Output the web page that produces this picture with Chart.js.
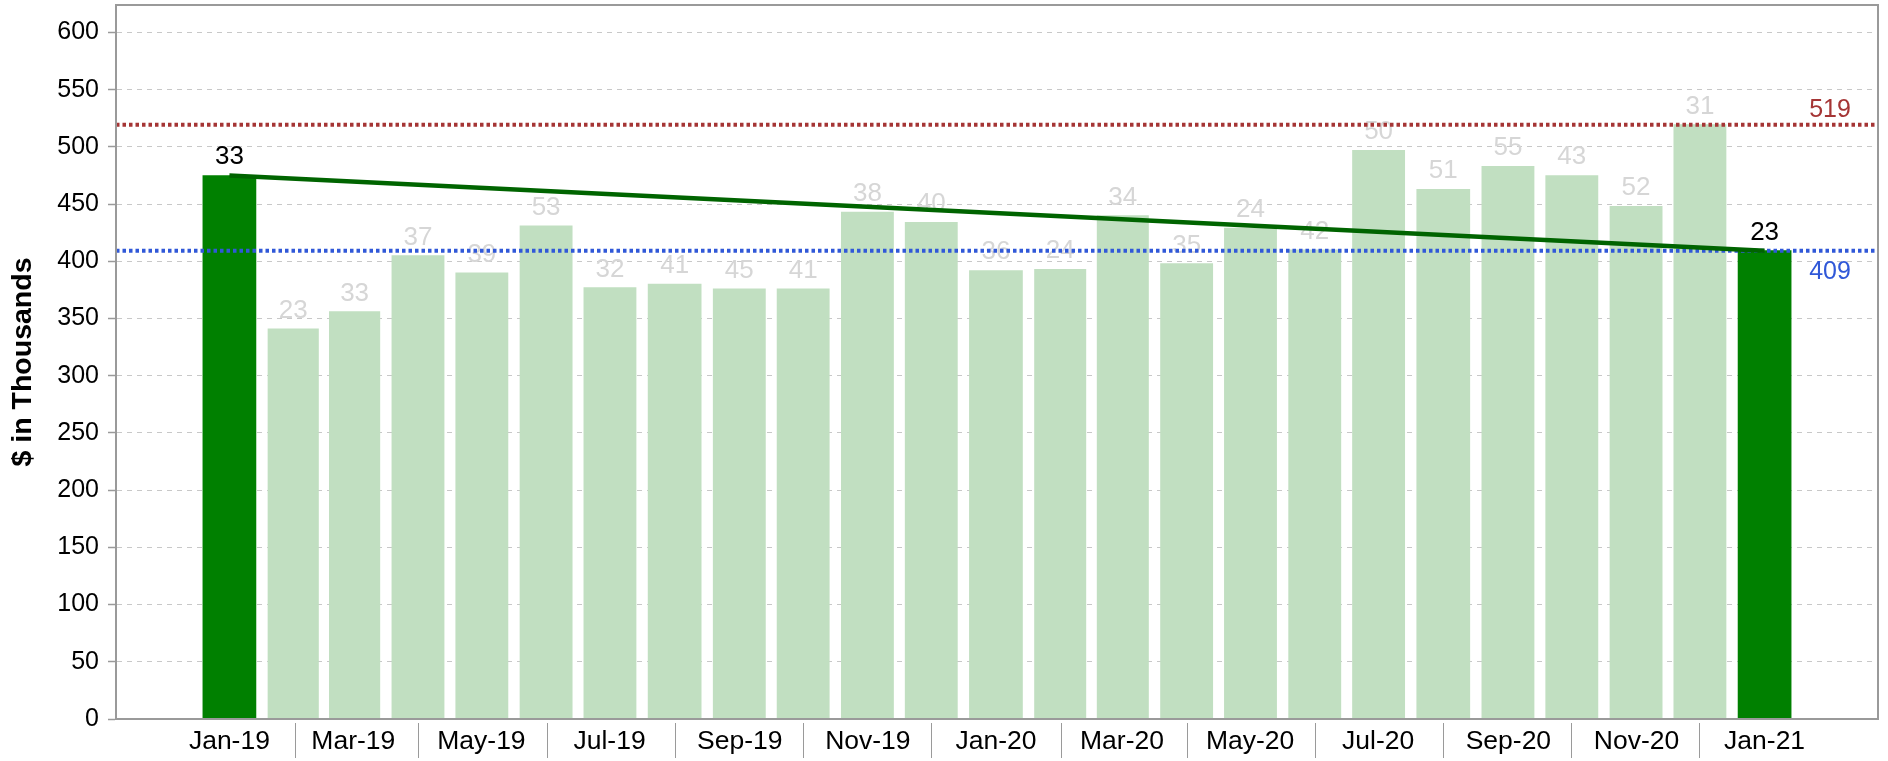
<!DOCTYPE html>
<html>
<head>
<meta charset="utf-8">
<script src="https://cdn.jsdelivr.net/npm/chart.js@4"></script>
<style>
html,body{margin:0;padding:0;background:#fff;}
#wrap{width:1888px;height:761px;position:relative;}
</style>
</head>
<body>
<div id="wrap"><canvas id="c" width="1888" height="761"></canvas></div>
<script>
// ---- data ----
const months = ['Jan-19','Feb-19','Mar-19','Apr-19','May-19','Jun-19','Jul-19','Aug-19','Sep-19','Oct-19','Nov-19','Dec-19',
                'Jan-20','Feb-20','Mar-20','Apr-20','May-20','Jun-20','Jul-20','Aug-20','Sep-20','Oct-20','Nov-20','Dec-20','Jan-21'];
const values = [475, 341, 356, 405, 390, 431, 377, 380, 376, 376, 443, 434,
                392, 393, 440, 398, 429, 410, 497, 463, 483, 475, 448, 519.4, 409.3];
const counts = [33, 23, 33, 37, 39, 53, 32, 41, 45, 41, 38, 40,
                36, 24, 34, 35, 24, 42, 50, 51, 55, 43, 52, 31, 23];
const yTicks = [0, 50, 100, 150, 200, 250, 300, 350, 400, 450, 500, 550, 600];
const yTitle = '$ in Thousands';

// ---- helpers ----
const MON = {Jan:0,Feb:1,Mar:2,Apr:3,May:4,Jun:5,Jul:6,Aug:7,Sep:8,Oct:9,Nov:10,Dec:11};
function dayOf(label){
  const parts = label.split('-');
  return (Date.UTC(2000 + Number(parts[1]), MON[parts[0]], 1) - Date.UTC(2019, 0, 1)) / 864e5;
}
const xs = months.map(dayOf);
const n = values.length;
const hi = i => i === 0 || i === n - 1;
const maxVal = Math.max.apply(null, values);
const lastVal = values[n - 1];
const X_PAD = 54;
const xMin = xs[0] - X_PAD, xMax = xs[n - 1] + X_PAD;
const FONT = "'Liberation Sans', Arial, Helvetica, sans-serif";
const RED = '#a53535', BLUE = '#3058d8';

Chart.defaults.font.family = FONT;
Chart.defaults.color = '#000';

const deco = {
  id: 'deco',
  beforeDatasetsDraw(chart){
    const ctx = chart.ctx;
    const meta = chart.getDatasetMeta(3);
    ctx.save();
    ctx.font = '26px ' + FONT;
    ctx.textAlign = 'center';
    ctx.textBaseline = 'alphabetic';
    meta.data.forEach((bar, i) => {
      ctx.fillStyle = hi(i) ? '#000' : '#d6d6d6';
      ctx.fillText(String(counts[i]), bar.x, bar.y - 11);
    });
    ctx.restore();
  },
  afterDraw(chart){
    const ctx = chart.ctx, ca = chart.chartArea;
    const xs_ = chart.scales.x, ys_ = chart.scales.y;
    ctx.save();
    // frame
    ctx.strokeStyle = '#9a9a9a';
    ctx.lineWidth = 2;
    ctx.strokeRect(ca.left, ca.top, ca.right - ca.left, ca.bottom - ca.top);
    // separators between x labels
    ctx.strokeStyle = '#9a9a9a';
    ctx.lineWidth = 1;
    for (let i = 1; i < n; i += 2){
      const px = Math.round(xs_.getPixelForValue(xs[i])) + 0.5;
      ctx.beginPath();
      ctx.moveTo(px, ca.bottom + 4);
      ctx.lineTo(px, ca.bottom + 39);
      ctx.stroke();
    }
    // reference labels
    ctx.font = '25px ' + FONT;
    ctx.textAlign = 'center';
    ctx.textBaseline = 'alphabetic';
    ctx.fillStyle = RED;
    ctx.fillText(String(Math.round(maxVal)), ca.right - 48, ys_.getPixelForValue(maxVal) - 8);
    ctx.fillStyle = BLUE;
    ctx.fillText(String(Math.round(lastVal)), ca.right - 48, ys_.getPixelForValue(lastVal) + 28);
    ctx.restore();
  }
};

new Chart(document.getElementById('c'), {
  type: 'bar',
  data: {
    datasets: [
      { type: 'line', label: 'trend',
        data: [{x: xs[0], y: values[0]}, {x: xs[n - 1], y: values[n - 1]}],
        borderColor: '#006400', borderWidth: 4.5, pointRadius: 0, order: 1 },
      { type: 'line', label: 'max',
        data: [{x: xMin, y: maxVal}, {x: xMax, y: maxVal}],
        borderColor: RED, borderWidth: 4, borderDash: [3.5, 3], pointRadius: 0, order: 2 },
      { type: 'line', label: 'last',
        data: [{x: xMin, y: lastVal}, {x: xMax, y: lastVal}],
        borderColor: BLUE, borderWidth: 4, borderDash: [3.5, 3], pointRadius: 0, order: 2 },
      { type: 'bar', label: 'amount',
        data: xs.map((x, i) => ({x: x, y: values[i]})),
        backgroundColor: c => hi(c.dataIndex) ? '#008000' : '#c1dfc1',
        barThickness: 'flex', categoryPercentage: 0.815, barPercentage: 1, order: 10 }
    ]
  },
  options: {
    responsive: false,
    animation: false,
    layout: { padding: { top: 5, right: 10, left: 0, bottom: 0 } },
    plugins: { legend: { display: false }, tooltip: { enabled: false } },
    scales: {
      x: {
        type: 'linear', min: xMin, max: xMax, offset: false,
        afterBuildTicks: s => { s.ticks = xs.map(v => ({value: v})); },
        afterFit: s => { s.height = 42; s.paddingLeft = 0; s.paddingRight = 0; },
        ticks: {
          autoSkip: false, maxRotation: 0, minRotation: 0, padding: 7,
          font: { size: 26.5 }, color: '#000',
          callback: (v, i) => (i % 2 === 0 ? months[i] : '')
        },
        grid: { display: false, drawOnChartArea: false, drawTicks: false },
        border: { display: true, color: '#9a9a9a', width: 2 }
      },
      y: {
        min: 0, max: 624,
        afterBuildTicks: s => { s.ticks = yTicks.map(v => ({value: v})); },
        afterFit: s => { s.width = 116; s.paddingTop = 0; s.paddingBottom = 0; },
        ticks: { padding: 9, font: { size: 25 }, color: '#000' },
        grid: { color: '#c8c8c8', lineWidth: 1, tickColor: '#9a9a9a', tickLength: 8, tickWidth: 1.5 },
        border: { display: true, color: '#9a9a9a', width: 2, dash: [5, 5] },
        title: { display: true, text: yTitle, font: { size: 28.5, weight: 'bold' }, color: '#000', padding: { top: 6, bottom: 0 } }
      }
    }
  },
  plugins: [deco]
});
</script>
</body>
</html>
